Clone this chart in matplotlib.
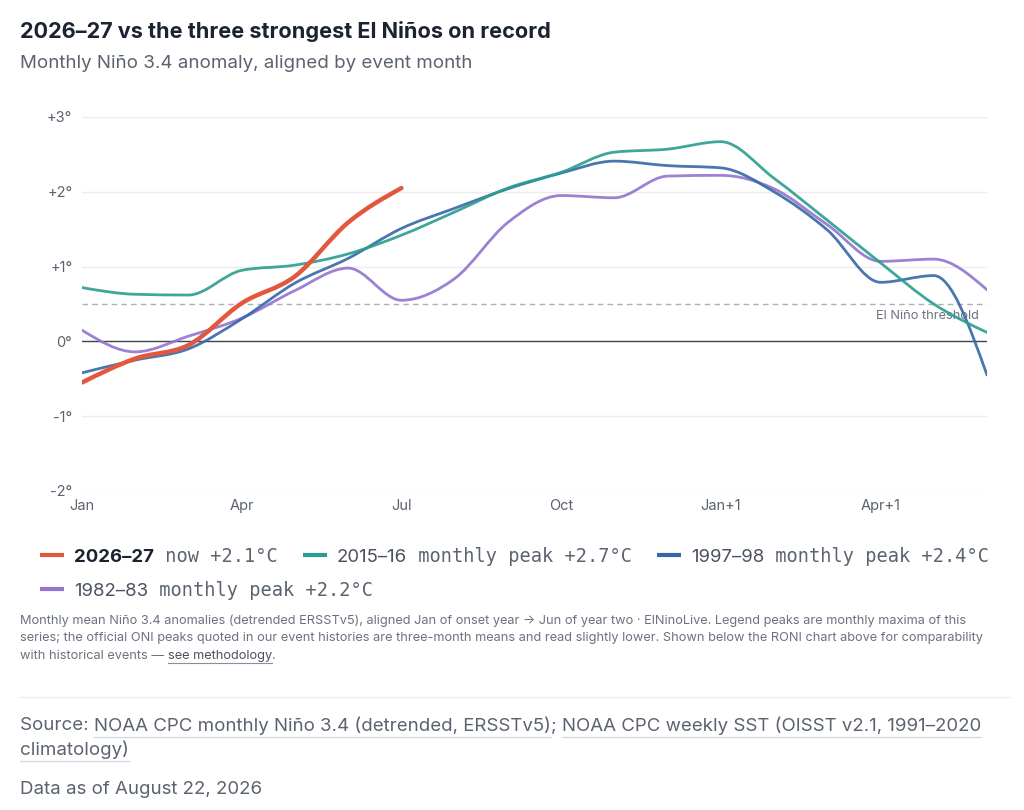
import numpy as np
import matplotlib
matplotlib.use("Agg")
import matplotlib.pyplot as plt
from matplotlib.path import Path
from matplotlib.patches import PathPatch
from matplotlib.lines import Line2D

# ---------------- data ----------------
months = list(range(18))
tick_pos = [0, 3, 6, 9, 12, 15]
tick_labels = ["Jan", "Apr", "Jul", "Oct", "Jan+1", "Apr+1"]
y_ticks = [3, 2, 1, 0, -1, -2]
y_tick_labels = ["+3°", "+2°", "+1°", "0°", "-1°", "-2°"]

s2026 = [-0.55, -0.23, -0.05, 0.51, 0.87, 1.59, 2.05]
s2015 = [0.72, 0.63, 0.62, 0.95, 1.02, 1.17, 1.42, 1.73, 2.05, 2.26, 2.53, 2.57, 2.67, 2.18, 1.62, 1.05, 0.50, 0.12]
s1997 = [-0.42, -0.25, -0.10, 0.30, 0.78, 1.11, 1.51, 1.78, 2.04, 2.25, 2.41, 2.35, 2.32, 2.00, 1.49, 0.79, 0.88, -0.45]
s1982 = [0.15, -0.14, 0.07, 0.31, 0.68, 0.98, 0.55, 0.84, 1.59, 1.95, 1.92, 2.21, 2.22, 2.04, 1.56, 1.07, 1.10, 0.69]

threshold = 0.5

series = [
    ("2026–27", " now +2.1°C", s2026, "#e2583f", 3.2, True),
    ("2015–16", " monthly peak +2.7°C", s2015, "#2a9d8f", 2.0, False),
    ("1997–98", " monthly peak +2.4°C", s1997, "#3468a8", 2.0, False),
    ("1982–83", " monthly peak +2.2°C", s1982, "#9373cf", 2.0, False),
]

W, H = 1024, 810
fig = plt.figure(figsize=(W / 100, H / 100), dpi=100)
fig.patch.set_facecolor("white")

SANS = ["Inter", "DejaVu Sans"]
MONO = ["DejaVu Sans Mono"]


def fx(px):
    return px / W


def fy(py):
    return 1 - py / H


# ---------------- axes ----------------
ax = fig.add_axes([fx(82), fy(491), fx(987) - fx(82), fy(117) - fy(491)])
ax.set_xlim(0, 17)
ax.set_ylim(-2, 3)
for sp in ax.spines.values():
    sp.set_visible(False)
ax.set_yticks(y_ticks)
ax.set_yticklabels(y_tick_labels)
ax.set_xticks(tick_pos)
ax.set_xticklabels(tick_labels)
ax.tick_params(axis="both", length=0, labelsize=10.5, labelcolor="#5b6370")
ax.tick_params(axis="y", pad=7)
ax.tick_params(axis="x", pad=6)
for lab in ax.get_xticklabels() + ax.get_yticklabels():
    lab.set_fontfamily(SANS)
ax.grid(axis="y", color="#ececec", linewidth=1.0)
ax.grid(axis="x", visible=False)
ax.axhline(0, color="#3f4650", linewidth=1.0, zorder=2)
ax.axhline(threshold, color="#b0b0b0", linewidth=1.0, linestyle=(0, (4, 3)), zorder=2)
ax.text(16.85, threshold - 0.08, "El Niño threshold", ha="right", va="top",
        fontsize=9.2, color="#6b7280", family=SANS, zorder=3)


def monotone_path(xs, ys):
    xs = np.asarray(xs, float)
    ys = np.asarray(ys, float)
    n = len(xs)
    h = np.diff(xs)
    s = np.diff(ys) / h
    t = np.zeros(n)
    for i in range(1, n - 1):
        h0, h1 = h[i - 1], h[i]
        s0, s1 = s[i - 1], s[i]
        p = (s0 * h1 + s1 * h0) / (h0 + h1)
        t[i] = (np.sign(s0) + np.sign(s1)) * min(abs(s0), abs(s1), 0.5 * abs(p))
    t[0] = (3 * s[0] - t[1]) / 2 if n > 2 else s[0]
    t[-1] = (3 * s[-1] - t[-2]) / 2 if n > 2 else s[-1]
    verts = [(xs[0], ys[0])]
    codes = [Path.MOVETO]
    for i in range(n - 1):
        dx = h[i] / 3
        verts += [(xs[i] + dx, ys[i] + t[i] * dx),
                  (xs[i + 1] - dx, ys[i + 1] - t[i + 1] * dx),
                  (xs[i + 1], ys[i + 1])]
        codes += [Path.CURVE4] * 3
    return Path(verts, codes)


draw_order = [series[3], series[2], series[1], series[0]]
for z, (name, suffix, vals, col, lw, bold) in enumerate(draw_order):
    p = monotone_path(months[:len(vals)], vals)
    ax.add_patch(PathPatch(p, fill=False, edgecolor=col, linewidth=lw,
                           capstyle="round", joinstyle="round", zorder=4 + z,
                           alpha=1.0 if bold else 0.9))

# ---------------- titles ----------------
fig.text(fx(20), fy(32), "2026–27 vs the three strongest El Niños on record",
         fontsize=15.6, fontweight="bold", color="#1b2230", family=SANS, va="center", ha="left")
fig.text(fx(20), fy(63), "Monthly Niño 3.4 anomaly, aligned by event month",
         fontsize=13.5, color="#5b6370", family=SANS, va="center", ha="left")

# ---------------- legend ----------------
fig.canvas.draw()
r = fig.canvas.get_renderer()
LEG_FS = 13.4


def legend_item(x_px, y_px, name, suffix, col, bold):
    fig.add_artist(Line2D([fx(x_px), fx(x_px + 24)], [fy(y_px), fy(y_px)],
                          transform=fig.transFigure, color=col, linewidth=3.0,
                          solid_capstyle="butt"))
    t1 = fig.text(fx(x_px + 34), fy(y_px), name, fontsize=LEG_FS,
                  fontweight="bold" if bold else "normal",
                  color="#1b2230" if bold else "#4b5260", family=SANS,
                  va="center_baseline", ha="left")
    bb = t1.get_window_extent(r)
    t2 = fig.text(bb.x1 / W, fy(y_px), suffix, fontsize=LEG_FS, color="#5b6370",
                  family=MONO, va="center_baseline", ha="left")
    return t2.get_window_extent(r).x1


row1 = 555
x = 40
for name, suffix, vals, col, lw, bold in series[:3]:
    end = legend_item(x, row1, name, suffix, col, bold)
    x = end + 25
legend_item(40, 589, series[3][0], series[3][1], series[3][3], series[3][5])

# ---------------- footnote ----------------
FN = 9.2
foot = [
    "Monthly mean Niño 3.4 anomalies (detrended ERSSTv5), aligned Jan of onset year → Jun of year two · ElNinoLive. Legend peaks are monthly maxima of this",
    "series; the official ONI peaks quoted in our event histories are three-month means and read slightly lower. Shown below the RONI chart above for comparability",
]
for i, line in enumerate(foot):
    fig.text(fx(20), fy(621 + 17.5 * i), line, fontsize=FN, color="#6b7280",
             family=SANS, va="center", ha="left")
t3 = fig.text(fx(20), fy(656), "with historical events — ", fontsize=FN, color="#6b7280",
              family=SANS, va="center", ha="left")
b3 = t3.get_window_extent(r)
t4 = fig.text(b3.x1 / W, fy(656), "see methodology", fontsize=FN, color="#4b5260",
              family=SANS, va="center", ha="left")
b4 = t4.get_window_extent(r)
fig.add_artist(Line2D([b4.x0 / W, b4.x1 / W], [(b4.y0 - 1) / H, (b4.y0 - 1) / H],
                      transform=fig.transFigure, color="#8a909a", linewidth=0.8))
fig.text(b4.x1 / W, fy(656), ".", fontsize=FN, color="#6b7280",
         family=SANS, va="center", ha="left")

# separator
fig.add_artist(Line2D([fx(20), fx(1010)], [fy(697), fy(697)], transform=fig.transFigure,
                      color="#ececec", linewidth=1.0))

# ---------------- source ----------------
src_col = "#5b6370"
SF = 13.45
s1 = fig.text(fx(20), fy(726), "Source: ", fontsize=SF, color=src_col, family=SANS,
              va="center", ha="left")
bs = s1.get_window_extent(r)
s2 = fig.text(bs.x1 / W, fy(726), "NOAA CPC monthly Niño 3.4 (detrended, ERSSTv5)", fontsize=SF,
              color=src_col, family=SANS, va="center", ha="left")
bs2 = s2.get_window_extent(r)
s3 = fig.text(bs2.x1 / W, fy(726), "; ", fontsize=SF, color=src_col, family=SANS,
              va="center", ha="left")
bs3 = s3.get_window_extent(r)
s4 = fig.text(bs3.x1 / W, fy(726), "NOAA CPC weekly SST (OISST v2.1, 1991–2020", fontsize=SF,
              color=src_col, family=SANS, va="center", ha="left")
bs4 = s4.get_window_extent(r)
s5 = fig.text(fx(20), fy(750), "climatology)", fontsize=SF, color=src_col, family=SANS,
              va="center", ha="left")
bs5 = s5.get_window_extent(r)
for b in (bs2, bs4, bs5):
    yy = (b.y0 - 2) / H
    fig.add_artist(Line2D([b.x0 / W, b.x1 / W], [yy, yy], transform=fig.transFigure,
                          color="#d5d8dd", linewidth=1.0))
fig.text(fx(20), fy(789), "Data as of August 22, 2026", fontsize=SF, color=src_col,
         family=SANS, va="center", ha="left")

fig.savefig("out.png", dpi=100, facecolor="white")
